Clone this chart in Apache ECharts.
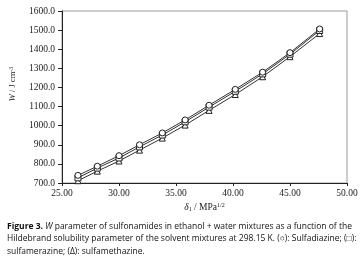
<!DOCTYPE html>
<html>
<head>
<meta charset="utf-8">
<script src="https://cdn.jsdelivr.net/npm/echarts@6/dist/echarts.min.js"></script>
<style>
	html, body { margin: 0; padding: 0; background: #fff; }
	#chart { width: 364px; height: 269px; }
</style>
</head>
<body>
<div id="chart"></div>
<script>
	// solubility parameter of the solvent mixtures (MPa^1/2)
	const delta = [26.4, 28.1, 30.0, 31.8, 33.8, 35.8, 37.9, 40.2, 42.6, 45.0, 47.6];
	// W parameter (J cm-3)
	const sulfadiazine = [740, 788, 843, 900, 962, 1030, 1107, 1190, 1280, 1382, 1506];
	const sulfamerazine = [727, 778, 831, 889, 951, 1020, 1097, 1180, 1271, 1374, 1498];
	const sulfamethazine = [712, 762, 815, 872, 935, 1003, 1080, 1163, 1256, 1361, 1482];
	const seriesNames = ["Sulfadiazine", "sulfamerazine", "sulfamethazine"];
	const symbols = ["circle", "rect", "triangle"];

	const serif = '"Liberation Serif", "DejaVu Serif", serif';
	const sans = '"Open Sans", "Noto Sans", sans-serif';

	const chart = echarts.init(document.getElementById("chart"));

	function pairs(ys) {
		return delta.map((x, i) => [x, ys[i]]);
	}

	const option = {
		animation: false,
		backgroundColor: "#fff",
		grid: {
			left: 53,
			right: 17,
			top: 11,
			bottom: 86,
			show: true,
			borderColor: "#999",
			borderWidth: 1,
		},
		title: {
			left: 2,
			top: 215,
			text: "{b|Figure 3.} {i|W} parameter of sulfonamides in ethanol + water mixtures as a function of the\nHildebrand solubility parameter of the solvent mixtures at 298.15 K. (○): Sulfadiazine; (□):\nsulfamerazine; (Δ): sulfamethazine.",
			textStyle: {
				fontFamily: sans,
				fontSize: 8.5,
				fontWeight: "normal",
				color: "#111",
				lineHeight: 12.5,
				rich: {
					b: { fontFamily: sans, fontSize: 8.5, fontWeight: "bold", color: "#111", lineHeight: 12.5 },
					i: { fontFamily: sans, fontSize: 8.5, fontStyle: "italic", color: "#111", lineHeight: 12.5 },
				}
			}
		},
		xAxis: {
			type: "value",
			min: 25,
			max: 50,
			interval: 5,
			name: "{i|δ}{s|1} / MPa{p|1/2}",
			nameLocation: "middle",
			nameGap: 17,
			nameTextStyle: {
				fontFamily: serif,
				fontSize: 9.5,
				color: "#222",
				rich: {
					i: { fontFamily: serif, fontSize: 9.5, fontStyle: "italic", color: "#222" },
					s: { fontFamily: serif, fontSize: 6, color: "#222", verticalAlign: "bottom", padding: [4, 0, 0, 0] },
					p: { fontFamily: serif, fontSize: 6, color: "#222", verticalAlign: "top", padding: [0, 0, 4, 0] },
				}
			},
			axisLine: { lineStyle: { color: "#222", width: 1 } },
			axisTick: { show: true, inside: false, length: 3, lineStyle: { color: "#222" } },
			axisLabel: {
				fontFamily: serif,
				fontSize: 9.5,
				color: "#222",
				margin: 5,
				formatter: v => v.toFixed(2),
			},
			splitLine: { show: false },
		},
		yAxis: {
			type: "value",
			min: 700,
			max: 1600,
			interval: 100,
			name: "{i|W} / J cm{p|-3}",
			nameLocation: "middle",
			nameRotate: 90,
			nameGap: 44,
			nameTextStyle: {
				fontFamily: serif,
				fontSize: 8.5,
				color: "#222",
				padding: [0, 0, 0, 26],
				rich: {
					i: { fontFamily: serif, fontSize: 8.5, fontStyle: "italic", color: "#222" },
					p: { fontFamily: serif, fontSize: 6, color: "#222", verticalAlign: "top", padding: [0, 0, 4, 0] },
				}
			},
			axisLine: { show: true, lineStyle: { color: "#222", width: 1 } },
			axisTick: { show: true, inside: false, length: 4, lineStyle: { color: "#222" } },
			axisLabel: {
				fontFamily: serif,
				fontSize: 9.5,
				color: "#222",
				margin: 7,
				formatter: v => v.toFixed(1),
			},
			splitLine: { show: false },
		},
		series: [sulfadiazine, sulfamerazine, sulfamethazine].map((ys, i) => ({
			name: seriesNames[i],
			type: "line",
			data: pairs(ys),
			symbol: symbols[i],
			symbolSize: 6,
			showAllSymbol: true,
			lineStyle: { color: "#333", width: 1 },
			itemStyle: { color: "#fff", borderColor: "#222", borderWidth: 1 },
			z: 3 - i,
		})),
	};
	chart.setOption(option);
</script>
</body>
</html>
